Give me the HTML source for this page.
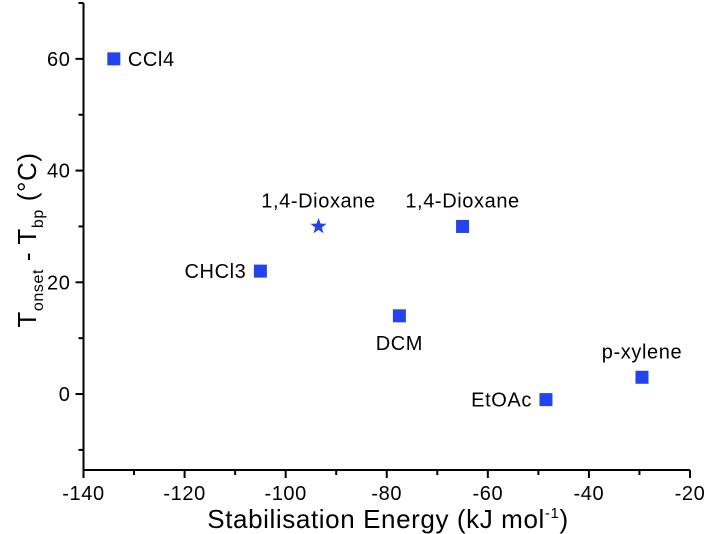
<!DOCTYPE html>
<html><head><meta charset="utf-8"><style>
body{margin:0;background:#fff}
svg{display:block;font-family:"Liberation Sans",Arial,sans-serif}
text{letter-spacing:0.6px}
</style></head><body>
<svg id="c" width="708" height="534"></svg>
<script>
const names=["CCl4","1,4-Dioxane","1,4-Dioxane","CHCl3","DCM","EtOAc","p-xylene"];
const xVals=[-134,-93.5,-65,-105,-77.5,-48.5,-29.5];
const yVals=[60,30,30,22,14,-1,3];
const shapes=["square","star","square","square","square","square","square"];
const labelPos=["right","above","above","left","below","left","above"];
const xTicks=[-140,-120,-100,-80,-60,-40,-20];
const yTicks=[0,20,40,60];
const NS="http://www.w3.org/2000/svg";
const svg=document.getElementById('c');
const X0=83.5,X1=690,Y0=470,Y1=3,xmin=-140,xmax=-20,ymin=-13.6,ymax=70;
const sx=v=>X0+(v-xmin)/(xmax-xmin)*(X1-X0);
const sy=v=>Y0-(v-ymin)/(ymax-ymin)*(Y0-Y1);
function el(t,a,txt){const e=document.createElementNS(NS,t);for(const k in a)e.setAttribute(k,a[k]);if(txt!=null)e.textContent=txt;svg.appendChild(e);return e;}
let e=el('line',{x1:X0,y1:Y1,x2:X0,y2:Y0,stroke:'#000','stroke-width':2});


e=el('line',{x1:X0,y1:Y0,x2:X1,y2:Y0,stroke:'#000','stroke-width':2});


for(let v=-140;v<=-20;v+=10){const x=sx(v);const maj=v%20===0;
e=el('line',{x1:x,y1:Y0,x2:x,y2:Y0+(maj?8:5),stroke:'#000','stroke-width':2});

}
xTicks.forEach(v=>{e=el('text',{x:sx(v),y:Y0+30,'font-size':20,'text-anchor':'middle'},String(v));

});
for(let v=-10;v<=70;v+=10){const y=sy(v);const maj=v%20===0;
e=el('line',{x1:X0,y1:y,x2:X0-(maj?8:5),y2:y,stroke:'#000','stroke-width':2});

}
yTicks.forEach(v=>{e=el('text',{x:X0-13,y:sy(v)+7,'font-size':20,'text-anchor':'end'},String(v));

});
e=el('text',{x:388,y:528,'font-size':26,'text-anchor':'middle'});
e.innerHTML='Stabilisation Energy (kJ mol<tspan dy="-10" font-size="15">-1</tspan><tspan dy="10">)</tspan>';


e=el('text',{x:0,y:0,'font-size':26,'text-anchor':'middle',transform:'translate(36,240) rotate(-90)'});
e.innerHTML='T<tspan dy="7" font-size="16">onset</tspan><tspan dy="-7"> - T</tspan><tspan dy="7" font-size="16">bp</tspan><tspan dy="-7"> (°C)</tspan>';


const col='#2244ee';
xVals.forEach((xv,i)=>{const x=sx(xv),y=sy(yVals[i]);
if(shapes[i]==='star'){let p=[];for(let k=0;k<10;k++){const r=k%2?3.5:8.5,a=-Math.PI/2+k*Math.PI/5;p.push((x+r*Math.cos(a)).toFixed(1)+','+(y+r*Math.sin(a)).toFixed(1));}
e=el('polygon',{points:p.join(' '),fill:col});}
else e=el('rect',{x:x-6.5,y:y-6.5,width:13,height:13,fill:col});


let lx=x,ly=y+7,anc='middle';const lp=labelPos[i];
if(lp==='right'){lx=x+14;anc='start';}else if(lp==='left'){lx=x-14;anc='end';}
else if(lp==='above'){ly=y-19;}else{ly=y+34;}
e=el('text',{x:lx,y:ly,'font-size':20,'text-anchor':anc},names[i]);

});
</script>
</body></html>
